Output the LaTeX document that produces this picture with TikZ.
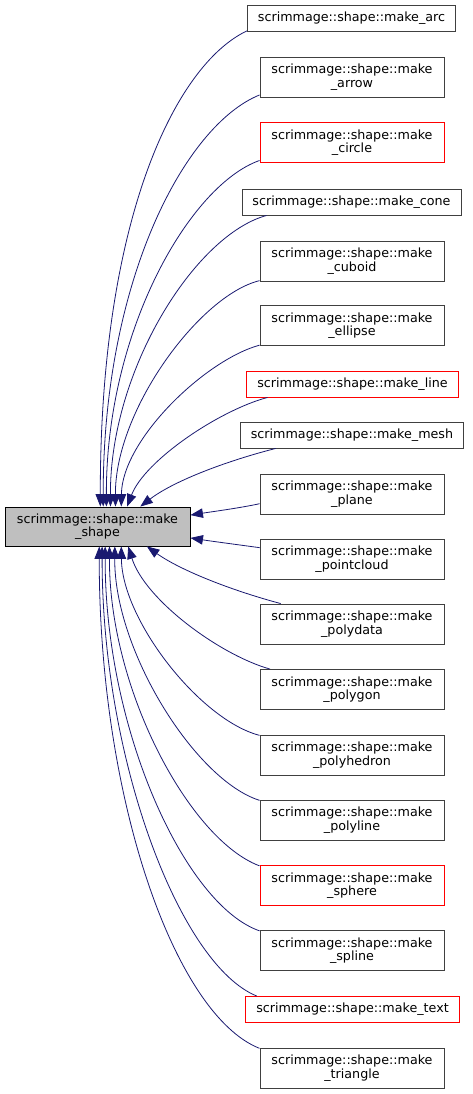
\documentclass[tikz,border=0pt]{standalone}
\usepackage{fontspec}
\newfontfamily\dejavu{DejaVu Sans}
\usetikzlibrary{arrows.meta}
\definecolor{edgeblue}{HTML}{191970}
\definecolor{boxgray}{HTML}{BFBFBF}
\tikzset{
  leaf/.style={draw=black!75, line width=0.9pt, fill=white, align=center,
    inner xsep=10.5pt, inner ysep=0pt, minimum height=26pt,
    font=\dejavu\fontsize{12.7}{13.5}\selectfont},
  leaftwo/.style={leaf, minimum width=184pt, minimum height=40pt},
  missing/.style={draw=red},
  edge/.style={draw=edgeblue, line width=0.8pt, -{Triangle[length=12.5pt,width=9.5pt]}}
}
\begin{document}
\begin{tikzpicture}[x=1pt,y=-1pt]
	\useasboundingbox (0,0) rectangle (472,1094);
	% the function in the middle
	\node [leaftwo, fill=boxgray, draw=black, minimum width=185pt, minimum height=39pt] (main) at (97.5,526.5) {scrimmage::shape::make\\\_shape};
	% callers, top to bottom
	\node [leaf] (arc) at (351.5,18) {scrimmage::shape::make\_arc};
	\node [leaftwo] (arrow) at (352,77) {scrimmage::shape::make\\\_arrow};
	\node [leaftwo, missing] (circle) at (352,142.5) {scrimmage::shape::make\\\_circle};
	\node [leaf] (cone) at (351.5,202) {scrimmage::shape::make\_cone};
	\node [leaftwo] (cuboid) at (352,261) {scrimmage::shape::make\\\_cuboid};
	\node [leaftwo] (ellipse) at (352,325.5) {scrimmage::shape::make\\\_ellipse};
	\node [leaf, missing] (line) at (352.5,384) {scrimmage::shape::make\_line};
	\node [leaf] (mesh) at (352,435) {scrimmage::shape::make\_mesh};
	\node [leaftwo] (plane) at (352,494) {scrimmage::shape::make\\\_plane};
	\node [leaftwo] (pointcloud) at (352,559) {scrimmage::shape::make\\\_pointcloud};
	\node [leaftwo] (polydata) at (352,624) {scrimmage::shape::make\\\_polydata};
	\node [leaftwo] (polygon) at (352,689.5) {scrimmage::shape::make\\\_polygon};
	\node [leaftwo] (polyhedron) at (352,755) {scrimmage::shape::make\\\_polyhedron};
	\node [leaftwo] (polyline) at (352,820) {scrimmage::shape::make\\\_polyline};
	\node [leaftwo, missing] (sphere) at (352,885.5) {scrimmage::shape::make\\\_sphere};
	\node [leaftwo] (spline) at (352,950.5) {scrimmage::shape::make\\\_spline};
	\node [leaf, missing] (text) at (352.5,1009.5) {scrimmage::shape::make\_text};
	\node [leaftwo] (triangle) at (352,1068) {scrimmage::shape::make\\\_triangle};
	% call edges
	\foreach \src/\sa/\ca/\cb/\ea in {
		arc/187.8/{175,65}/{100,220}/82.7,
		arrow/191.5/{185,125}/{103,280}/74.2,
		circle/191.5/{190,185}/{106,330}/66.4,
		cone/189.5/{195,235}/{110,370}/57.3,
		cuboid/192/{200,295}/{115,410}/48.1,
		ellipse/192.4/{205,360}/{122,440}/40.9,
		line/189.2/{220,410}/{145,460}/34.4,
		mesh/190.7/{230,460}/{175,480}/25.7,
		plane/186.8/{240,508}/{210,512}/7.7,
		pointcloud/173.2/{240,545}/{210,541}/-7.7,
		polydata/164/{230,590}/{180,570}/-22.3,
		polygon/166.3/{220,655}/{145,600}/-33.5,
		polyhedron/168.5/{200,720}/{122,620}/-40.9,
		polyline/168.5/{195,780}/{114,650}/-49.8,
		sphere/168.4/{190,840}/{109,690}/-59.5,
		spline/168.4/{185,905}/{105,730}/-69,
		text/172.4/{180,965}/{102,760}/-77,
		triangle/168.3/{175,1015}/{99,800}/-85.6}
		\draw [edge] (\src.\sa) .. controls (\ca) and (\cb) .. (main.\ea);
\end{tikzpicture}
\end{document}
